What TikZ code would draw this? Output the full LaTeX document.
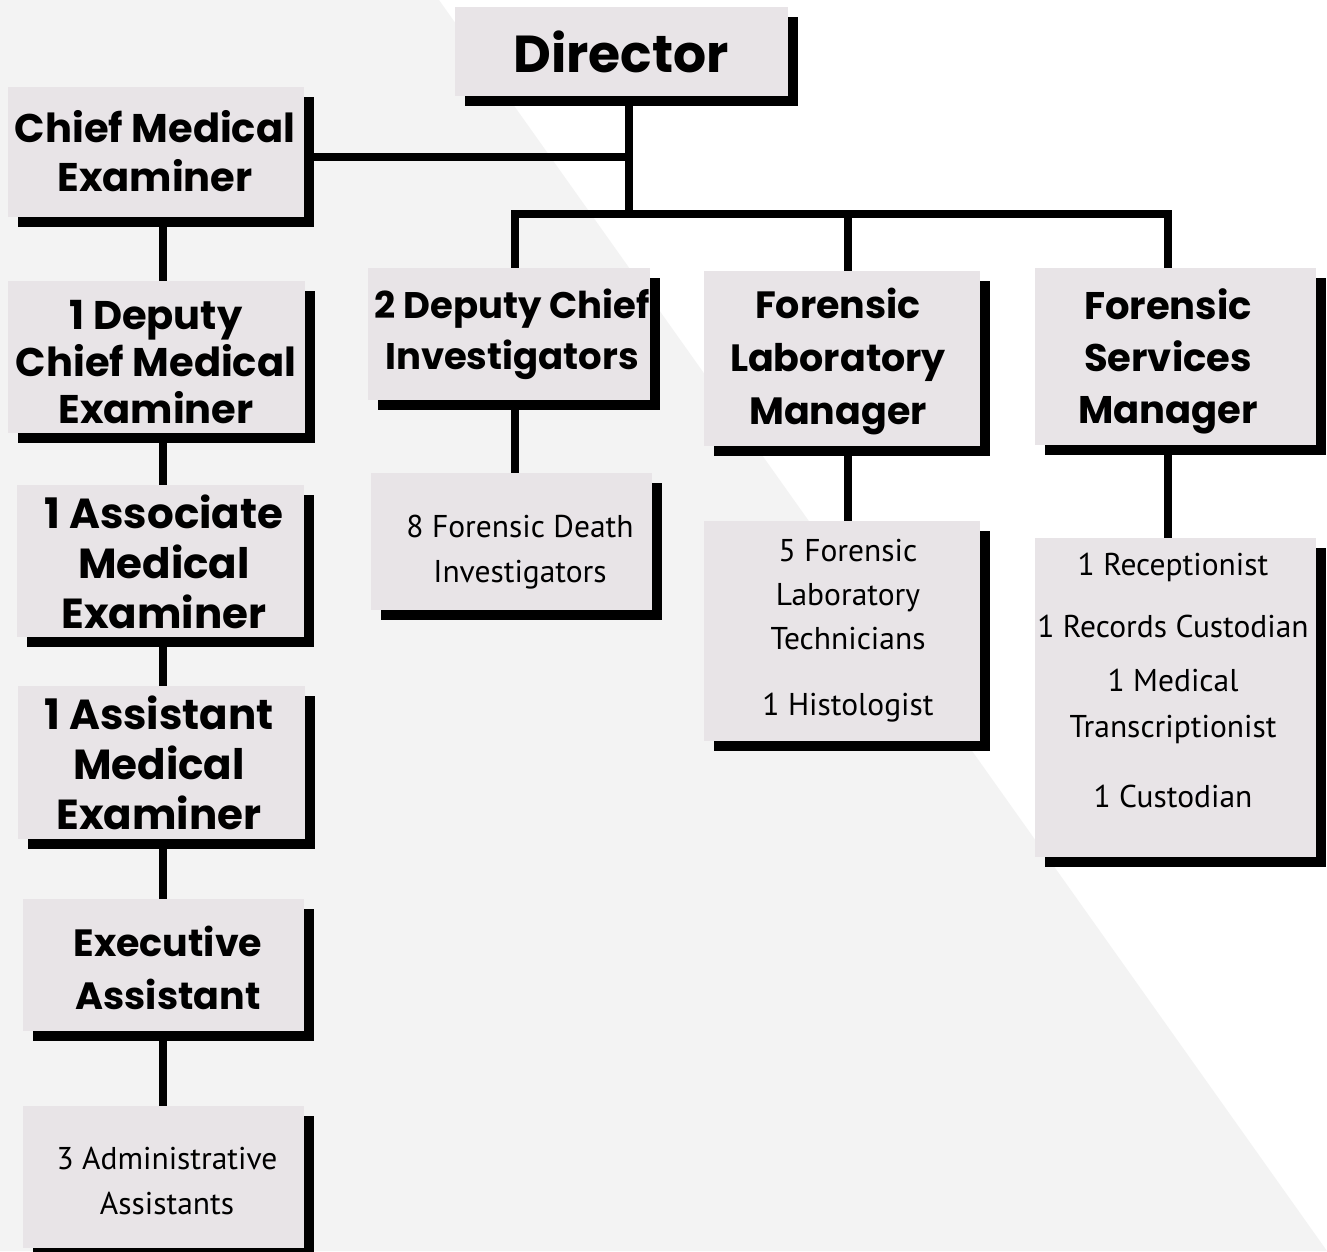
\documentclass[tikz,border=0pt]{standalone}
\usepackage{fontspec}
\setmainfont{PT Sans}
\newfontfamily\titlefont{Poppins}
\usetikzlibrary{shadows}
\definecolor{boxfill}{RGB}{232,228,231}
\definecolor{bggray}{RGB}{243,243,243}
\begin{document}
\begin{tikzpicture}[x=1pt,y=-1pt,
  box/.style={fill=boxfill, inner sep=0pt, drop shadow={shadow xshift=10pt, shadow yshift=-10pt, fill=black, opacity=1}},
  ttl/.style={font=\titlefont\bfseries\fontsize{40}{50}\selectfont, align=center, inner sep=0pt},
  txt/.style={font=\fontsize{31.5}{44}\selectfont, align=center, inner sep=0pt},
  link/.style={line width=8pt, line join=miter}]
\fill[white] (0,0) rectangle (1327,1251);
\fill[bggray] (0,0) -- (439,0) -- (1327,1251) -- (0,1251) -- cycle;
\useasboundingbox (0,0) rectangle (1327,1251);

% boxes
\node[box, minimum width=333pt, minimum height=89pt] (dir) at (621.5,51.5) {};
\node[box, minimum width=296pt, minimum height=130pt] (cme) at (156,152) {};
\node[box, minimum width=297pt, minimum height=152pt] (dcme) at (156.5,357) {};
\node[box, minimum width=287pt, minimum height=152pt] (ame) at (160.5,561) {};
\node[box, minimum width=287pt, minimum height=153pt] (asme) at (161.5,762.5) {};
\node[box, minimum width=281pt, minimum height=132pt] (exa) at (163.5,965) {};
\node[box, minimum width=281pt, minimum height=142pt] (adm) at (163.5,1177) {};
\node[box, minimum width=282pt, minimum height=132pt] (dci) at (509,334) {};
\node[box, minimum width=281pt, minimum height=137pt] (fdi) at (511.5,541.5) {};
\node[box, minimum width=276pt, minimum height=175pt] (flm) at (842,358.5) {};
\node[box, minimum width=276pt, minimum height=220pt] (flt) at (842,631) {};
\node[box, minimum width=281pt, minimum height=177pt] (fsm) at (1175.5,356.5) {};
\node[box, minimum width=281pt, minimum height=319pt] (fss) at (1175.5,697.5) {};

% texts
\node[ttl, font=\titlefont\bfseries\fontsize{52}{60}\selectfont] (dir-t) at (621,52) {Director};
\node[ttl, font=\titlefont\bfseries\fontsize{40}{49}\selectfont] (cme-t) at (155,151) {Chief Medical\\Examiner};
\node[ttl, font=\titlefont\bfseries\fontsize{40}{47}\selectfont] (dcme-t) at (156,362) {1 Deputy\\Chief Medical\\Examiner};
\node[ttl, font=\titlefont\bfseries\fontsize{42}{50}\selectfont] (ame-t) at (164,562) {1 Associate\\Medical\\Examiner};
\node[ttl, font=\titlefont\bfseries\fontsize{42}{50}\selectfont] (asme-t) at (159,763) {1 Assistant\\Medical\\Examiner};
\node[ttl, font=\titlefont\bfseries\fontsize{38}{53}\selectfont] (exa-t) at (168,968) {Executive\\Assistant};
\node[ttl, font=\titlefont\bfseries\fontsize{37}{51}\selectfont] (dci-t) at (512,334) {2 Deputy Chief\\Investigators};
\node[ttl, font=\titlefont\bfseries\fontsize{38}{53}\selectfont] (flm-t) at (838,361) {Forensic\\Laboratory\\Manager};
\node[ttl, font=\titlefont\bfseries\fontsize{38.5}{52}\selectfont] (fsm-t) at (1168,361) {Forensic\\Services\\Manager};
\node[txt, font=\fontsize{31.5}{45}\selectfont] (fdi-t) at (520,552) {8 Forensic Death\\Investigators};
\node[txt] (flt-t) at (848,631) {5 Forensic\\Laboratory\\Technicians\\[22pt]1 Histologist};
\node[txt, font=\fontsize{31.5}{45}\selectfont] (fss-t) at (1173,680) {1 Receptionist\\[17pt]1 Records Custodian\\[9pt]1 Medical\\[1pt]Transcriptionist\\[25pt]1 Custodian};
\node[txt, font=\fontsize{31.5}{45}\selectfont] (adm-t) at (167,1181) {3 Administrative\\Assistants};

% connectors
\coordinate (jm) at (629,157);
\coordinate (jb) at (629,214);
\coordinate (xa) at (515,214);
\coordinate (xb) at (848,214);
\coordinate (xc) at (1168,214);
\coordinate (xl) at (163,0);
\draw[link] (dir.south -| jb) -- (jb);
\draw[link] (cme.east |- jm) -- (jm);
\draw[link] (dci.north -| xa) -- (xa) -- (xc) -- (fsm.north -| xc);
\draw[link] (xb) -- (flm.north -| xb);
\draw[link] (dci.south -| xa) -- (fdi.north -| xa);
\draw[link] (flm.south -| xb) -- (flt.north -| xb);
\draw[link] (fsm.south -| xc) -- (fss.north -| xc);
\draw[link] (cme.south -| xl) -- (dcme.north -| xl);
\draw[link] (dcme.south -| xl) -- (ame.north -| xl);
\draw[link] (ame.south -| xl) -- (asme.north -| xl);
\draw[link] (asme.south -| xl) -- (exa.north -| xl);
\draw[link] (exa.south -| xl) -- (adm.north -| xl);
\end{tikzpicture}
\end{document}
